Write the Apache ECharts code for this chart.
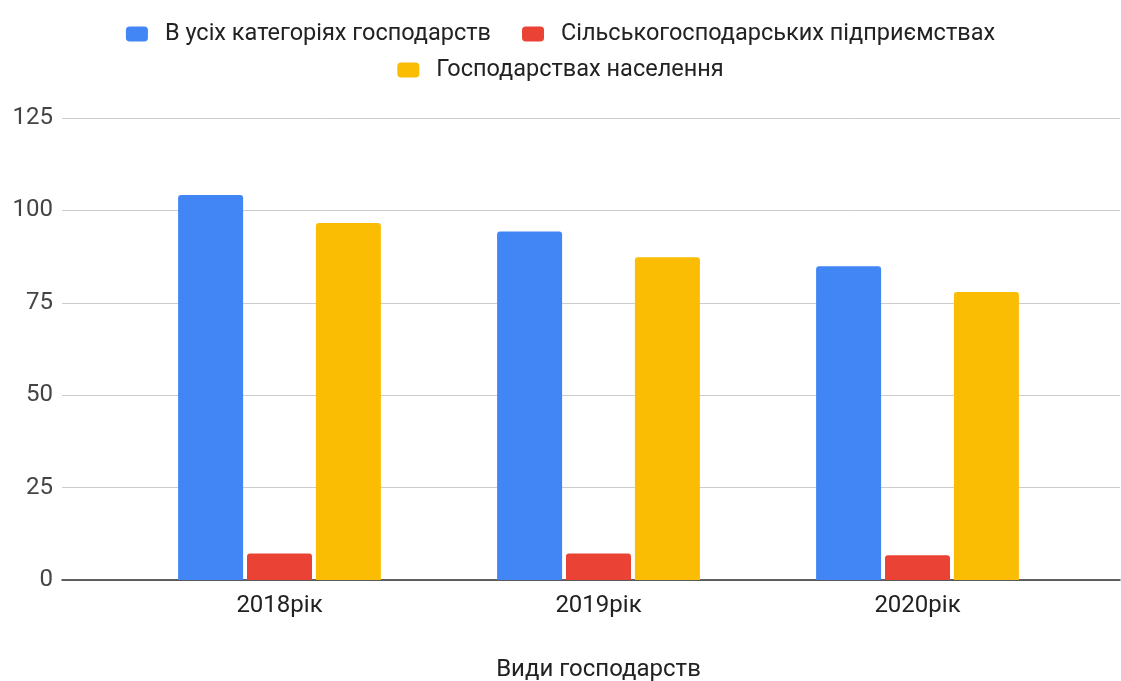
<!DOCTYPE html>
<html>
<head>
<meta charset="utf-8">
<script src="https://cdn.jsdelivr.net/npm/echarts@6/dist/echarts.min.js"></script>
<style>
  html, body { margin: 0; padding: 0; background: #fff; }
  #chart { width: 1121px; height: 681px; }
</style>
</head>
<body>
<div id="chart"></div>
<script>
const categories = ['2018рік', '2019рік', '2020рік'];
const allFarms = [104.2, 94.3, 84.9];
const agriEnterprises = [7.2, 7.2, 6.7];
const households = [96.6, 87.3, 77.9];
const yTicks = [0, 25, 50, 75, 100, 125];

const chart = echarts.init(document.getElementById('chart'), null, { renderer: 'canvas' });

const font = 'Roboto, Arial, sans-serif';
const legendText = { fontFamily: font, fontSize: 23.5, color: '#222', padding: [0, 0, 0, 12] };

const option = {
  animation: false,
  legend: [
    {
      data: ['В усіх категоріях господарств', 'Сільськогосподарських підприємствах'],
      top: 17, left: 'center',
      itemWidth: 22, itemHeight: 15, itemGap: 31,
      icon: 'roundRect',
      textStyle: legendText
    },
    {
      data: ['Господарствах населення'],
      top: 53, left: 'center',
      itemWidth: 22, itemHeight: 15,
      icon: 'roundRect',
      textStyle: legendText
    }
  ],
  grid: [
    { left: 62, right: 1, top: 118, bottom: 101, outerBoundsMode: 'none', containLabel: false },
    { left: 120, right: 44, top: 118, bottom: 101, outerBoundsMode: 'none', containLabel: false }
  ],
  xAxis: [
    {
      gridIndex: 0, type: 'category', data: categories,
      axisLine: { show: true, lineStyle: { color: '#333', width: 1.5 } },
      axisTick: { show: false }, axisLabel: { show: false }, splitLine: { show: false }
    },
    {
      gridIndex: 1, type: 'category', data: categories,
      axisLine: { show: false }, axisTick: { show: false },
      axisLabel: { fontFamily: font, fontSize: 24, color: '#222', margin: 14 },
      name: 'Види господарств', nameLocation: 'middle', nameGap: 78,
      nameTextStyle: { fontFamily: font, fontSize: 24, color: '#222' }
    }
  ],
  yAxis: [
    {
      gridIndex: 0, type: 'value', min: 0, max: 125, interval: 25,
      axisLine: { show: false }, axisTick: { show: false },
      axisLabel: {
        fontFamily: font, fontSize: 24, color: '#444', margin: 9,
        formatter: v => (yTicks.includes(v) ? String(v) : '')
      },
      splitLine: { lineStyle: { color: '#ccc', width: 1 } }
    },
    {
      gridIndex: 1, type: 'value', min: 0, max: 125, interval: 25,
      show: false, splitLine: { show: false }
    }
  ],
  series: [
    {
      name: 'В усіх категоріях господарств', type: 'bar',
      xAxisIndex: 1, yAxisIndex: 1,
      data: allFarms, barWidth: 65, barGap: '6%',
      itemStyle: { color: '#4285f4', borderRadius: [3, 3, 0, 0] }
    },
    {
      name: 'Сільськогосподарських підприємствах', type: 'bar',
      xAxisIndex: 1, yAxisIndex: 1,
      data: agriEnterprises, barWidth: 65, barGap: '6%',
      itemStyle: { color: '#ea4335', borderRadius: [3, 3, 0, 0] }
    },
    {
      name: 'Господарствах населення', type: 'bar',
      xAxisIndex: 1, yAxisIndex: 1,
      data: households, barWidth: 65, barGap: '6%',
      itemStyle: { color: '#fbbc04', borderRadius: [3, 3, 0, 0] }
    }
  ]
};

chart.setOption(option);
window.addEventListener('resize', () => chart.resize());
</script>
</body>
</html>
